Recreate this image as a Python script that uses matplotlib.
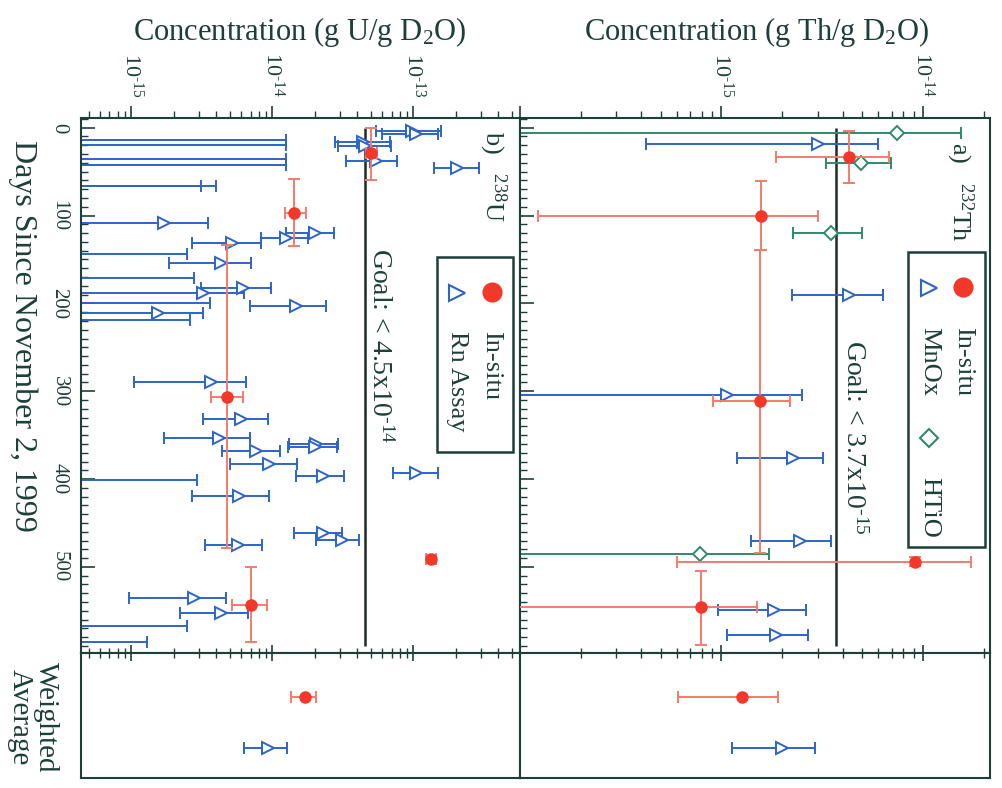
import numpy as np
import matplotlib.pyplot as plt
from matplotlib.ticker import LogLocator, NullFormatter, MultipleLocator
from matplotlib.patches import Rectangle

plt.rcParams['font.family'] = ['Liberation Serif', 'DejaVu Serif']
plt.rcParams['mathtext.fontset'] = 'custom'
plt.rcParams['mathtext.rm'] = 'Liberation Serif'
plt.rcParams['mathtext.it'] = 'Liberation Serif:italic'

OFF = 1e-18  # lower edge of bars that run off the log axis

# ---- 238U panel ----
u_rn_day = [4, 7, 16, 21, 38, 46, 109, 120, 125, 131, 154, 183, 188, 203, 211,
            289, 332, 353, 360, 364, 368, 383, 393, 397, 419, 461, 469, 475, 535, 553]
u_rn_val = [9.8e-14, 1.05e-13, 4.4e-14, 4.5e-14, 5.4e-14, 2.05e-13, 1.7e-15, 2.0e-14, 1.25e-14, 5.2e-15,
            4.3e-15, 6.2e-15, 3.2e-15, 1.47e-14, 1.54e-15,
            3.7e-15, 6.0e-15, 4.2e-15, 2.04e-14, 2.0e-14, 7.7e-15, 9.5e-15, 1.05e-13, 2.3e-14,
            5.8e-15, 2.3e-14, 3.1e-14, 5.7e-15, 2.8e-15, 4.3e-15]
u_rn_lo = [5.4e-14, 6.0e-14, 2.8e-14, 2.9e-14, 3.3e-14, 1.4e-13, OFF, 1.25e-14, 8.3e-15, 2.7e-15,
           1.86e-15, 3.1e-15, OFF, 6.9e-15, OFF,
           1.05e-15, 3.2e-15, 1.7e-15, 1.32e-14, 1.3e-14, 4.4e-15, 5.0e-15, 7.2e-14, 1.47e-14,
           2.7e-15, 1.43e-14, 2.04e-14, 3.35e-15, 9.6e-16, 2.2e-15]
u_rn_hi = [1.57e-13, 1.5e-13, 6.8e-14, 6.9e-14, 7.7e-14, 2.9e-13, 3.5e-15, 2.75e-14, 1.8e-14, 8.3e-15,
           7.0e-15, 9.8e-15, 6.3e-15, 2.4e-14, 3.2e-15,
           6.5e-15, 9.3e-15, 6.9e-15, 2.9e-14, 2.85e-14, 1.13e-14, 1.5e-14, 1.5e-13, 3.2e-14,
           9.5e-15, 3.1e-14, 4.1e-14, 8.5e-15, 4.7e-15, 6.7e-15]
u_lim_day = [14, 20, 36, 43, 66, 66, 144, 171, 200, 219, 401, 567, 585]
u_lim_val = [1.25e-14, 1.25e-14, 1.25e-14, 1.25e-14, 4.0e-15, 3.1e-15, 2.5e-15, 2.8e-15,
             3.6e-15, 2.6e-15, 2.9e-15, 2.5e-15, 1.3e-15]
u_is_day = [29, 97, 306, 491, 543]
u_is_dlo = [0, 58, 133, 486, 500]
u_is_dhi = [59, 135, 478, 496, 586]
u_is_val = [5.0e-14, 1.43e-14, 4.8e-15, 1.33e-13, 7.0e-15]
u_is_lo = [4.6e-14, 1.23e-14, 3.7e-15, 1.22e-13, 5.2e-15]
u_is_hi = [5.5e-14, 1.74e-14, 6.2e-15, 1.45e-13, 9.2e-15]
u_goal = 4.5e-14

# ---- 232Th panel ----
th_is_day = [33, 100, 311, 494, 546]
th_is_dlo = [4, 61, 139, 489, 505]
th_is_dhi = [63, 139, 484, 499, 589]
th_is_val = [4.3e-15, 1.57e-15, 1.55e-15, 9.1e-15, 7.9e-16]
th_is_lo = [1.87e-15, 1.23e-16, 9.1e-16, 6.0e-16, OFF]
th_is_hi = [6.8e-15, 3.0e-15, 2.2e-15, 1.73e-14, 1.5e-15]
th_mn_day = [19, 190, 304, 376, 471, 549, 577]
th_mn_val = [3.0e-15, 4.3e-15, 1.07e-15, 2.26e-15, 2.44e-15, 1.83e-15, 1.87e-15]
th_mn_lo = [4.2e-16, 2.24e-15, OFF, 1.2e-15, 1.4e-15, 9.6e-16, 1.07e-15]
th_mn_hi = [6.0e-15, 6.3e-15, 2.5e-15, 3.2e-15, 3.5e-15, 2.63e-15, 2.7e-15]
th_ht_day = [6, 40, 120, 485]
th_ht_val = [7.4e-15, 4.9e-15, 3.5e-15, 7.8e-16]
th_ht_lo = [OFF, 3.3e-15, 2.26e-15, OFF]
th_ht_hi = [1.55e-14, 6.95e-15, 5.0e-15, 1.72e-15]
th_goal = 3.7e-15
goal_days = [0, 590]

# ---- weighted averages (row 0 = in-situ, row 1 = ex-situ) ----
avg_rows = [0, 1]
u_avg_val = [1.7e-14, 9.3e-15]
u_avg_lo = [1.35e-14, 6.3e-15]
u_avg_hi = [2.05e-14, 1.26e-14]
th_avg_val = [1.26e-15, 2.0e-15]
th_avg_lo = [6.1e-16, 1.13e-15]
th_avg_hi = [1.9e-15, 2.9e-15]

INK = '#1d3f3a'
RED = '#f2382a'
RED_BAR = '#f47b6b'
BLUE = '#2d64c8'
GREEN = '#2e8a6c'


def xerr(val, lo, hi):
    val, lo, hi = np.asarray(val), np.asarray(lo), np.asarray(hi)
    return [val - lo, hi - val]


def measured(ax, day, val, lo, hi, color, marker, ms):
    ax.errorbar(val, day, xerr=xerr(val, lo, hi), fmt=marker, color=color, mfc='white',
                mec=color, ms=ms, mew=1.4, elinewidth=1.4, capsize=4, capthick=1.4, zorder=2)


def limits(ax, day, lim, color):
    lim = np.asarray(lim)
    ax.errorbar(lim, day, xerr=[lim - OFF, np.zeros_like(lim)], fmt='none', ecolor=color,
                elinewidth=1.4, capsize=4, capthick=1.4, zorder=2)


def insitu(ax, day, dlo, dhi, val, lo, hi):
    day, dlo, dhi = np.asarray(day), np.asarray(dlo), np.asarray(dhi)
    ax.errorbar(val, day, xerr=xerr(val, lo, hi), yerr=[day - dlo, dhi - day], fmt='o',
                color=RED, ecolor=RED_BAR, ms=8, elinewidth=1.4, capsize=4, capthick=1.4, zorder=3)


def style_main(ax, xlim, ticks, labels, left_labels):
    ax.set_xscale('log')
    ax.set_xlim(*xlim)
    ax.set_ylim(598, -11)
    ax.xaxis.tick_top()
    ax.set_xticks(ticks)
    ax.set_xticklabels(labels)
    ax.xaxis.set_minor_locator(LogLocator(base=10, subs=np.arange(2, 10)))
    ax.xaxis.set_minor_formatter(NullFormatter())
    ax.tick_params(axis='x', which='major', direction='out', length=9, width=1.2, colors=INK,
                   labelsize=16, pad=6, top=True, bottom=False)
    ax.tick_params(axis='x', which='minor', direction='out', length=5, width=1.0, colors=INK,
                   top=True, bottom=False)
    plt.setp(ax.get_xticklabels(), rotation=-90, ha='center', va='bottom', color=INK)
    ax.yaxis.set_major_locator(MultipleLocator(100))
    ax.yaxis.set_minor_locator(MultipleLocator(10))
    ax.tick_params(axis='y', which='major', direction='in', length=10, width=1.2, colors=INK,
                   labelsize=15, pad=9, left=True, right=False, labelleft=left_labels)
    ax.tick_params(axis='y', which='minor', direction='in', length=5, width=1.0, colors=INK,
                   left=True, right=False)
    if left_labels:
        plt.setp(ax.get_yticklabels(), rotation=-90, ha='right', va='center', color=INK)
    for s in ax.spines.values():
        s.set_color(INK)
        s.set_linewidth(1.5)


def style_avg(ax, xlim):
    ax.set_xscale('log')
    ax.set_xlim(*xlim)
    ax.set_ylim(1.6, -0.86)
    ax.xaxis.set_minor_locator(LogLocator(base=10, subs=np.arange(2, 10)))
    ax.tick_params(axis='x', which='major', direction='inout', length=12, width=1.2, colors=INK,
                   top=True, bottom=False, labeltop=False, labelbottom=False)
    ax.tick_params(axis='x', which='minor', direction='inout', length=7, width=1.0, colors=INK,
                   top=True, bottom=False)
    ax.set_yticks([])
    for s in ax.spines.values():
        s.set_color(INK)
        s.set_linewidth(1.5)


def rot_legend(ax, box, entries):
    x0, y0, x1, y1 = box
    ax.add_patch(Rectangle((x0, y0), x1 - x0, y1 - y0, transform=ax.transAxes, fill=False,
                           ec=INK, lw=1.8, zorder=5))
    for mx, my, marker, color, filled, ms, tx, ty, label in entries:
        ax.plot([mx], [my], marker=marker, ms=ms, color=color, mfc=color if filled else 'white',
                mew=1.5, transform=ax.transAxes, zorder=6, clip_on=False)
        ax.text(tx, ty, label, transform=ax.transAxes, rotation=-90, ha='center', va='top',
                fontsize=19, color=INK)


fig = plt.figure(figsize=(10.03, 7.88), dpi=100)
axU = fig.add_axes([0.0808, 0.1713, 0.4377, 0.6789])
axT = fig.add_axes([0.5184, 0.1713, 0.4686, 0.6789])
axUa = fig.add_axes([0.0808, 0.0127, 0.4377, 0.1586])
axTa = fig.add_axes([0.5184, 0.0127, 0.4686, 0.1586])

u_xlim = (4.4e-16, 5.7e-13)
th_xlim = (1e-16, 2.15e-14)

# U panel
axU.vlines(u_goal, *goal_days, color='#1a2b28', lw=1.8, zorder=1)
limits(axU, u_lim_day, u_lim_val, BLUE)
measured(axU, u_rn_day, u_rn_val, u_rn_lo, u_rn_hi, BLUE, '>', 9)
insitu(axU, u_is_day, u_is_dlo, u_is_dhi, u_is_val, u_is_lo, u_is_hi)
style_main(axU, u_xlim, [1e-15, 1e-14, 1e-13],
           [r'10$^{\text{-}15}$', r'10$^{\text{-}14}$', r'10$^{\text{-}13}$'], True)
axU.text(0.681, 0.757, r'Goal: < 4.5x10$^{\text{-}14}$', transform=axU.transAxes, rotation=-90,
         ha='center', va='top', fontsize=20, color=INK)
axU.text(0.938, 0.975, r'b)   $^{238}$U', transform=axU.transAxes, rotation=-90,
         ha='center', va='top', fontsize=19, color=INK)
rot_legend(axU, (0.810, 0.376, 0.983, 0.741), [
    (0.935, 0.675, 'o', RED, True, 13, 0.935, 0.601, 'In-situ'),
    (0.856, 0.673, '>', BLUE, False, 12, 0.856, 0.601, 'Rn Assay'),
])

# Th panel
axT.vlines(th_goal, *goal_days, color='#1a2b28', lw=1.8, zorder=1)
measured(axT, th_ht_day, th_ht_val, th_ht_lo, th_ht_hi, GREEN, 'D', 7)
measured(axT, th_mn_day, th_mn_val, th_mn_lo, th_mn_hi, BLUE, '>', 9)
insitu(axT, th_is_day, th_is_dlo, th_is_dhi, th_is_val, th_is_lo, th_is_hi)
style_main(axT, th_xlim, [1e-16, 1e-15, 1e-14],
           ['', r'10$^{\text{-}15}$', r'10$^{\text{-}14}$'], False)
axT.text(0.709, 0.585, r'Goal: < 3.7x10$^{\text{-}15}$', transform=axT.transAxes, rotation=-90,
         ha='center', va='top', fontsize=20, color=INK)
axT.text(0.935, 0.955, r'a)   $^{232}$Th', transform=axT.transAxes, rotation=-90,
         ha='center', va='top', fontsize=19, color=INK)
rot_legend(axT, (0.826, 0.198, 0.989, 0.750), [
    (0.943, 0.684, 'o', RED, True, 13, 0.943, 0.609, 'In-situ'),
    (0.870, 0.682, '>', BLUE, False, 12, 0.870, 0.609, 'MnOx'),
    (0.870, 0.402, 'D', GREEN, False, 9, 0.870, 0.329, 'HTiO'),
])

# weighted averages
for ax, val, lo, hi, xl in [(axUa, u_avg_val, u_avg_lo, u_avg_hi, u_xlim),
                            (axTa, th_avg_val, th_avg_lo, th_avg_hi, th_xlim)]:
    e = xerr(val, lo, hi)
    ax.errorbar(val[0], avg_rows[0], xerr=[[e[0][0]], [e[1][0]]], fmt='o', color=RED,
                ecolor=RED_BAR, ms=8, elinewidth=1.4, capsize=4, capthick=1.4)
    ax.errorbar(val[1], avg_rows[1], xerr=[[e[0][1]], [e[1][1]]], fmt='>', color=BLUE,
                mfc='white', ms=9, mew=1.4, elinewidth=1.4, capsize=4, capthick=1.4)
    style_avg(ax, xl)

fig.text(300 / 1003, 1 - 32 / 788, r'Concentration (g U/g D$_2$O)', ha='center', va='center',
         fontsize=22, color=INK)
fig.text(757 / 1003, 1 - 32 / 788, r'Concentration (g Th/g D$_2$O)', ha='center', va='center',
         fontsize=22, color=INK)
fig.text(23 / 1003, 1 - 336 / 788, 'Days Since November 2, 1999', rotation=-90,
         ha='center', va='center', fontsize=23, color=INK)
fig.text(33 / 1003, 1 - 717 / 788, 'Weighted\nAverage', rotation=-90, ha='center',
         va='center', multialignment='center', fontsize=21, color=INK, linespacing=1.0)

fig.savefig('out.png', dpi=100, facecolor='white')
